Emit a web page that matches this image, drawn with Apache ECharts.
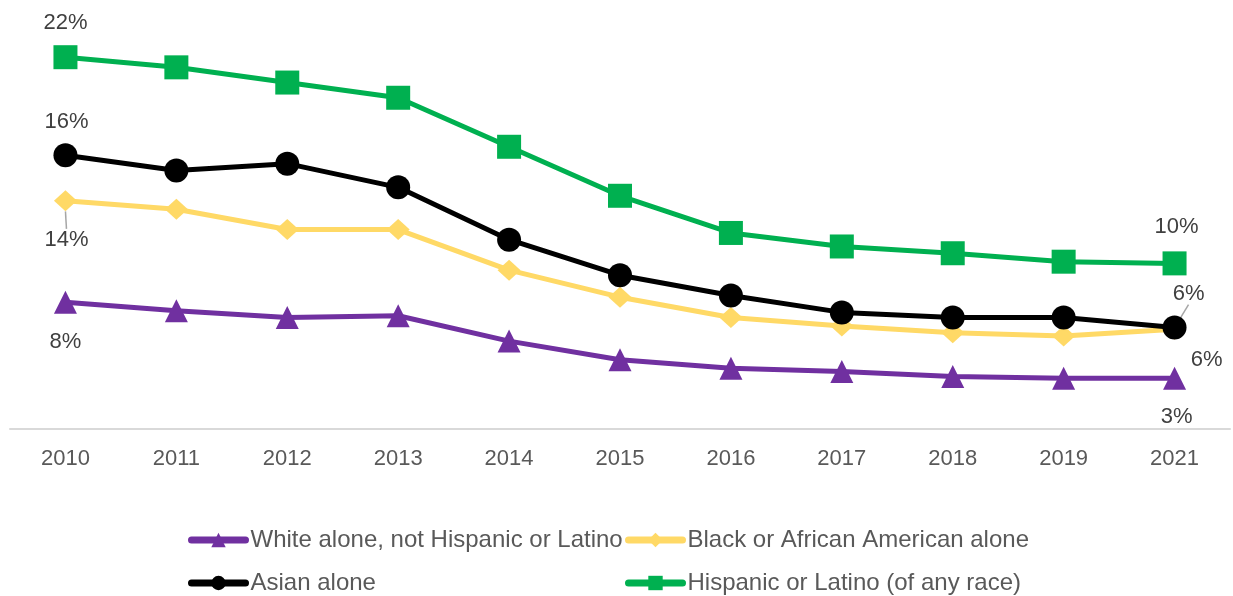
<!DOCTYPE html>
<html>
<head>
<meta charset="utf-8">
<script src="https://cdn.jsdelivr.net/npm/echarts@6/dist/echarts.min.js"></script>
<style>
  html, body { margin: 0; padding: 0; background: #fff; }
  #main { width: 1233px; height: 596px; }
</style>
</head>
<body>
<div id="main"></div>
<script>
// years on the x axis (no 2020 in the source)
const years = ['2010', '2011', '2012', '2013', '2014', '2015', '2016', '2017', '2018', '2019', '2021'];

// share of people, in percent
const whiteVals = [7.5, 7.0, 6.6, 6.7, 5.2, 4.1, 3.6, 3.4, 3.1, 3.0, 3.0];
const blackVals = [13.5, 13.0, 11.8, 11.8, 9.4, 7.8, 6.6, 6.1, 5.7, 5.5, 5.9];
const asianVals = [16.2, 15.3, 15.7, 14.3, 11.2, 9.1, 7.9, 6.9, 6.6, 6.6, 6.0];
const hispanicVals = [22.0, 21.4, 20.5, 19.6, 16.7, 13.8, 11.6, 10.8, 10.4, 9.9, 9.8];

const seriesNames = [
    'White alone, not Hispanic or Latino',
    'Black or African American alone',
    'Asian alone',
    'Hispanic or Latino (of any race)'
];

const chartDom = document.getElementById('main');
const myChart = echarts.init(chartDom);

// label offsets (dx, dy from the point) for first and last points, plus guide line on/off
const labelSpots = {
    0: { first: [0, 40, false], last: [2, 39, false] },
    1: { first: [1, 39, true], last: [32, 31, false] },
    2: { first: [1, -33, false], last: [14, -34, true] },
    3: { first: [0, -34, false], last: [2, -36, false] }
};

const buildData = (vals, sIdx) => vals.map((v, i) => {
    const spot = i === 0 ? labelSpots[sIdx].first : (i === vals.length - 1 ? labelSpots[sIdx].last : null);
    if (!spot) return { value: v, label: { show: false } };
    return {
        value: v,
        label: { show: true },
        labelLine: { show: spot[2] }
    };
});

const labelLayout = (params) => {
    const s = labelSpots[params.seriesIndex];
    if (!s) return {};
    const spot = params.dataIndex === 0 ? s.first : s.last;
    return { dx: spot[0], dy: spot[1] };
};

const lineSeries = (name, vals, sIdx, color, symbol, size) => ({
    name: name,
    type: 'line',
    data: buildData(vals, sIdx),
    symbol: symbol,
    symbolSize: size,
    showAllSymbol: true,
    lineStyle: { color: color, width: 5 },
    itemStyle: { color: color },
    label: {
        position: 'inside',
        formatter: (p) => Math.round(p.value) + '%',
        color: '#404040',
        fontSize: 22,
        fontFamily: 'Liberation Sans, Arial, sans-serif'
    },
    labelLine: {
        show: false,
        lineStyle: { color: '#a6a6a6', width: 1.5 }
    },
    labelLayout: labelLayout,
    emphasis: { disabled: true },
    animation: false
});

// one legend per entry so the 2x2 grid lines up like the original
const legendSpots = [[188, 538], [625, 538], [188, 581], [625, 581]];

const legends = seriesNames.map((name, i) => ({
    data: [name],
    left: legendSpots[i][0],
    top: legendSpots[i][1] - 10,
    padding: 0,
    itemWidth: 54,
    itemHeight: 18,
    lineStyle: { width: 7, cap: 'round' },
    textStyle: {
        color: '#595959',
        fontSize: 24,
        fontFamily: 'Liberation Sans, Arial, sans-serif'
    },
    selectedMode: false
}));

const option = {
    backgroundColor: '#ffffff',
    grid: { left: 10, right: 3, top: 6.5, bottom: 167, containLabel: false },
    xAxis: {
        type: 'category',
        data: years,
        boundaryGap: true,
        axisLine: { show: true, lineStyle: { color: '#d9d9d9', width: 2 } },
        axisTick: { show: false },
        axisLabel: {
            color: '#595959',
            fontSize: 22,
            margin: 19,
            fontFamily: 'Liberation Sans, Arial, sans-serif'
        }
    },
    yAxis: {
        type: 'value',
        min: 0,
        max: 25,
        show: false,
        splitLine: { show: false }
    },
    legend: legends,
    series: [
        lineSeries(seriesNames[0], whiteVals, 0, '#7030A0', 'triangle', 23),
        lineSeries(seriesNames[1], blackVals, 1, '#FFD966', 'diamond', [23, 21]),
        lineSeries(seriesNames[2], asianVals, 2, '#000000', 'circle', 24),
        lineSeries(seriesNames[3], hispanicVals, 3, '#00B050', 'rect', 24)
    ]
};

myChart.setOption(option);

window.addEventListener('resize', () => {
    myChart.resize();
});
</script>
</body>
</html>
